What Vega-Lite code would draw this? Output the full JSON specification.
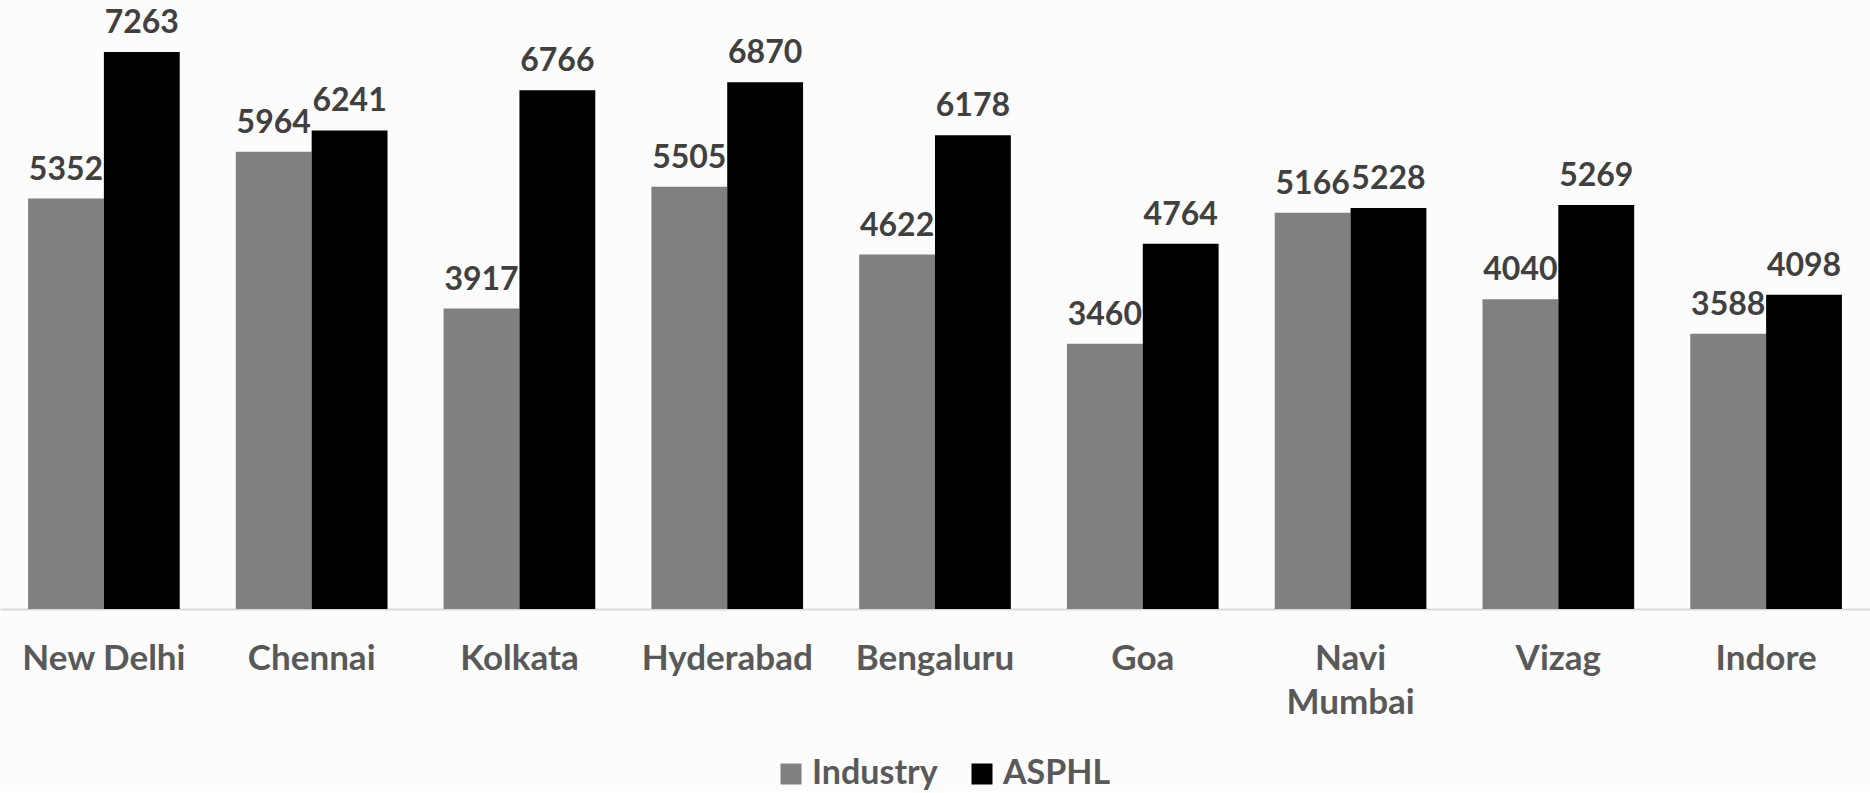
{
  "$schema": "https://vega.github.io/schema/vega-lite/v6.json",
  "width": 1870,
  "height": 602,
  "padding": {"top": 7, "left": 0, "right": 0, "bottom": 0},
  "background": "#fcfcfc",
  "config": {
    "view": {"stroke": null},
    "font": "Lato"
  },
  "data": {
    "values": [
      {"city": "New Delhi", "series": "Industry", "value": 5352},
      {"city": "New Delhi", "series": "ASPHL", "value": 7263},
      {"city": "Chennai", "series": "Industry", "value": 5964},
      {"city": "Chennai", "series": "ASPHL", "value": 6241},
      {"city": "Kolkata", "series": "Industry", "value": 3917},
      {"city": "Kolkata", "series": "ASPHL", "value": 6766},
      {"city": "Hyderabad", "series": "Industry", "value": 5505},
      {"city": "Hyderabad", "series": "ASPHL", "value": 6870},
      {"city": "Bengaluru", "series": "Industry", "value": 4622},
      {"city": "Bengaluru", "series": "ASPHL", "value": 6178},
      {"city": "Goa", "series": "Industry", "value": 3460},
      {"city": "Goa", "series": "ASPHL", "value": 4764},
      {"city": "Navi Mumbai", "series": "Industry", "value": 5166},
      {"city": "Navi Mumbai", "series": "ASPHL", "value": 5228},
      {"city": "Vizag", "series": "Industry", "value": 4040},
      {"city": "Vizag", "series": "ASPHL", "value": 5269},
      {"city": "Indore", "series": "Industry", "value": 3588},
      {"city": "Indore", "series": "ASPHL", "value": 4098}
    ]
  },
  "encoding": {
    "x": {
      "field": "city",
      "type": "nominal",
      "sort": null,
      "scale": {"paddingInner": 0.27, "paddingOuter": 0.135},
      "axis": {
        "title": null,
        "ticks": false,
        "tickSize": 0,
        "labelAngle": 0,
        "labelFont": "Lato",
        "labelFontSize": 35,
        "labelFontWeight": "bold",
        "labelColor": "#595959",
        "labelPadding": 32,
        "labelBaseline": "top",
        "labelLineHeight": 44,
        "labelExpr": "datum.label == 'Navi Mumbai' ? ['Navi', 'Mumbai'] : datum.label",
        "domainColor": "#d9d9d9",
        "domainWidth": 2
      }
    },
    "xOffset": {"field": "series", "type": "nominal", "sort": ["Industry", "ASPHL"], "scale": {"paddingInner": 0}},
    "y": {
      "field": "value",
      "type": "quantitative",
      "scale": {"domain": [0, 7850], "nice": false},
      "axis": null
    }
  },
  "layer": [
    {
      "mark": {"type": "bar"},
      "encoding": {
        "color": {
          "field": "series",
          "type": "nominal",
          "scale": {"domain": ["Industry", "ASPHL"], "range": ["#808080", "#000000"]},
          "legend": {
            "title": null,
            "orient": "none",
            "legendX": 774,
            "legendY": 750,
            "padding": 0,
            "direction": "horizontal",
            "symbolType": "square",
            "symbolSize": 441,
            "symbolStrokeWidth": 0,
            "labelFont": "Lato",
            "labelFontSize": 34,
            "labelFontWeight": "bold",
            "labelColor": "#595959",
            "labelOffset": 4,
            "columnPadding": 27
          }
        }
      }
    },
    {
      "mark": {"type": "text", "baseline": "alphabetic", "dy": -19, "font": "Lato", "fontSize": 32, "fontWeight": "bold", "color": "#404040"},
      "encoding": {
        "text": {"field": "value", "type": "quantitative", "format": "d"}
      }
    }
  ]
}
